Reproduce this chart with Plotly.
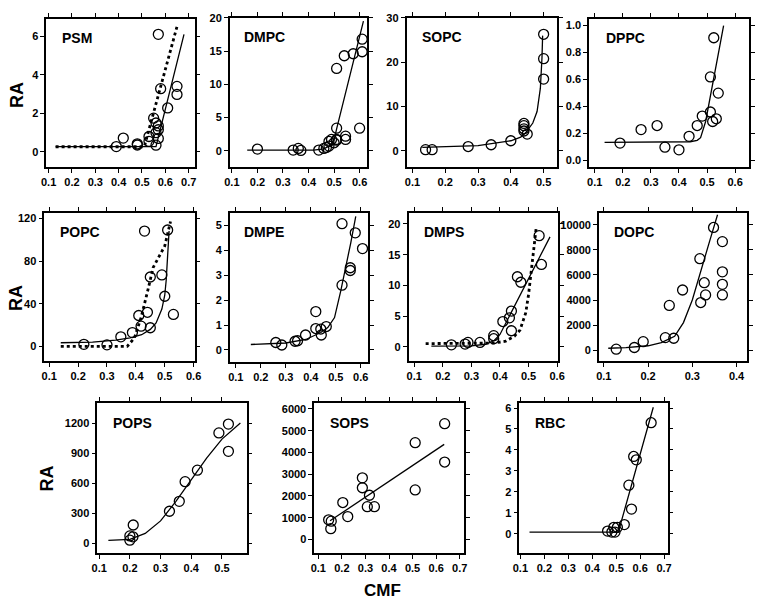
import plotly.graph_objects as go

W, H = 764, 603

# ---------------- data ----------------
psm_x = [0.39, 0.42, 0.48, 0.48, 0.53, 0.53, 0.55, 0.56, 0.56, 0.56, 0.57, 0.57, 0.57, 0.57, 0.58, 0.61, 0.65, 0.65]
psm_y = [0.28, 0.72, 0.42, 0.36, 0.8, 0.55, 1.75, 1.5, 0.35, 1.0, 1.35, 1.15, 0.7, 6.1, 3.28, 2.28, 3.4, 2.98]
psm_fit_x = [0.13, 0.56, 0.68]
psm_fit_y = [0.28, 0.28, 6.1]
psm_dot_x = [0.13, 0.51, 0.65]
psm_dot_y = [0.27, 0.27, 6.5]

dmpc_x = [0.2, 0.34, 0.36, 0.37, 0.44, 0.46, 0.47, 0.48, 0.48, 0.49, 0.5, 0.51, 0.51, 0.51, 0.51, 0.54, 0.545, 0.545, 0.575, 0.6, 0.61, 0.61]
dmpc_y = [0.25, 0.1, 0.35, 0.05, 0.1, 0.35, 0.5, 1.4, 0.7, 1.7, 1.2, 1.6, 12.4, 3.4, 1.7, 14.3, 1.7, 2.2, 14.6, 3.4, 16.8, 14.9]
dmpc_fit_x = [0.16, 0.42, 0.46, 0.48, 0.5, 0.51, 0.615]
dmpc_fit_y = [0.1, 0.1, 0.3, 0.7, 1.6, 3.3, 19.5]

sopc_x = [0.14, 0.16, 0.27, 0.34, 0.40, 0.44, 0.44, 0.44, 0.44, 0.45, 0.5, 0.5, 0.5]
sopc_y = [0.3, 0.3, 1.0, 1.4, 2.3, 6.2, 5.7, 5.0, 4.5, 3.8, 26.3, 20.8, 16.2]
sopc_fit_x = [0.13, 0.3, 0.4, 0.43, 0.445, 0.467, 0.48, 0.49, 0.495, 0.497]
sopc_fit_y = [0.8, 1.2, 2.3, 3.1, 4.1, 6.3, 8.9, 14.1, 21.0, 26.0]

dppc_x = [0.19, 0.265, 0.322, 0.35, 0.40, 0.436, 0.465, 0.483, 0.512, 0.512, 0.52, 0.533, 0.54, 0.524]
dppc_y = [0.13, 0.23, 0.26, 0.1, 0.08, 0.18, 0.26, 0.33, 0.62, 0.36, 0.29, 0.31, 0.5, 0.91]
dppc_fit_x = [0.135, 0.44, 0.465, 0.477, 0.495, 0.559]
dppc_fit_y = [0.135, 0.14, 0.15, 0.17, 0.29, 1.0]

popc_x = [0.22, 0.3, 0.348, 0.388, 0.41, 0.418, 0.44, 0.43, 0.45, 0.45, 0.49, 0.5, 0.51, 0.53]
popc_y = [2, 1.5, 9, 13, 29, 19, 32, 108, 65, 17.5, 67, 47, 109, 30]
popc_fit_x = [0.14, 0.25, 0.33, 0.38, 0.42, 0.45, 0.47, 0.49, 0.5, 0.505, 0.51, 0.515]
popc_fit_y = [3.5, 4, 6, 8, 11, 16, 22, 35, 48, 62, 85, 108]
popc_dot_x = [0.14, 0.37, 0.395, 0.418, 0.44, 0.46, 0.5, 0.52]
popc_dot_y = [0, 0, 8, 27, 51, 74, 94, 117]

dmpe_x = [0.26, 0.284, 0.337, 0.347, 0.379, 0.42, 0.42, 0.44, 0.442, 0.462, 0.525, 0.525, 0.558, 0.558, 0.578, 0.607]
dmpe_y = [0.3, 0.2, 0.35, 0.37, 0.6, 1.54, 0.86, 0.84, 0.6, 0.94, 2.6, 5.07, 3.3, 3.19, 4.7, 4.07]
dmpe_fit_x = [0.16, 0.3, 0.38, 0.44, 0.468, 0.495, 0.52, 0.54, 0.56, 0.58]
dmpe_fit_y = [0.22, 0.28, 0.42, 0.7, 0.9, 1.3, 2.37, 3.3, 4.3, 5.36]

dmps_x = [0.23, 0.278, 0.288, 0.33, 0.378, 0.378, 0.41, 0.433, 0.44, 0.44, 0.461, 0.473, 0.537, 0.545]
dmps_y = [0.3, 0.43, 0.7, 0.7, 1.8, 1.3, 4.1, 4.7, 5.8, 2.6, 11.4, 10.5, 18.1, 13.4]
dmps_fit_x = [0.16, 0.3, 0.35, 0.38, 0.4, 0.575]
dmps_fit_y = [0.1, 0.15, 0.4, 1.0, 2.0, 17.9]
dmps_dot_x = [0.14, 0.3, 0.38, 0.42, 0.45, 0.47, 0.49, 0.5, 0.51, 0.52, 0.527]
dmps_dot_y = [0.5, 0.5, 0.6, 0.9, 1.7, 2.7, 5.5, 8.5, 12.5, 16.5, 19.5]

dopc_x = [0.128, 0.169, 0.189, 0.239, 0.258, 0.248, 0.278, 0.317, 0.319, 0.327, 0.33, 0.348, 0.368, 0.368, 0.368, 0.368]
dopc_y = [80, 210, 680, 1000, 950, 3570, 4800, 7300, 3800, 5380, 4410, 9790, 8660, 6250, 5250, 4410]
dopc_fit_x = [0.11, 0.15, 0.2, 0.23, 0.26, 0.28, 0.3, 0.32, 0.34, 0.357]
dopc_fit_y = [150, 200, 350, 600, 1100, 2200, 4000, 6300, 8800, 10800]

pops_x = [0.2, 0.2, 0.21, 0.211, 0.329, 0.361, 0.38, 0.42, 0.49, 0.521, 0.521]
pops_y = [33, 75, 66, 184, 321, 420, 616, 731, 1102, 1190, 918]
pops_fit_x = [0.13, 0.2, 0.25, 0.3, 0.35, 0.4, 0.45, 0.5, 0.56]
pops_fit_y = [30, 40, 100, 225, 420, 640, 850, 1040, 1200]

sops_x = [0.144, 0.155, 0.153, 0.204, 0.225, 0.287, 0.287, 0.308, 0.317, 0.338, 0.511, 0.511, 0.636, 0.636]
sops_y = [905, 845, 500, 1700, 1055, 2835, 2380, 1510, 2035, 1510, 4450, 2280, 5320, 3560]
sops_fit_x = [0.15, 0.634]
sops_fit_y = [860, 4370]

rbc_x = [0.464, 0.482, 0.49, 0.495, 0.505, 0.534, 0.553, 0.564, 0.573, 0.584, 0.646]
rbc_y = [0.13, 0.08, 0.31, 0.08, 0.31, 0.44, 2.32, 1.18, 3.69, 3.53, 5.3]
rbc_fit_x = [0.138, 0.509, 0.655]
rbc_fit_y = [0.08, 0.08, 6.04]

# tick labels
cmf_ticks = ["0.1", "0.2", "0.3", "0.4", "0.5", "0.6", "0.7"]
psm_yticks = ["0", "2", "4", "6"]
dmpc_yticks = ["0", "5", "10", "15", "20"]
sopc_yticks = ["0", "10", "20", "30"]
dppc_yticks = ["0.0", "0.2", "0.4", "0.6", "0.8", "1.0"]
popc_yticks = ["0", "40", "80", "120"]
dmpe_yticks = ["0", "1", "2", "3", "4", "5"]
dmps_yticks = ["0", "5", "10", "15", "20"]
dopc_yticks = ["0", "2000", "4000", "6000", "8000", "10000"]
pops_yticks = ["0", "300", "600", "900", "1200"]
sops_yticks = ["0", "1000", "2000", "3000", "4000", "5000", "6000"]
rbc_yticks = ["0", "1", "2", "3", "4", "5", "6"]

# ---------------- panels ----------------
# name, points, fit, dotted, box(px l,r,t,b), xrange, yrange, n x ticks, y tick labels
panels = [
    ("PSM", (psm_x, psm_y), (psm_fit_x, psm_fit_y), (psm_dot_x, psm_dot_y), (40, 191, 13, 163), [0.09, 0.725], [-0.8, 6.9], 7, psm_yticks),
    ("DMPC", (dmpc_x, dmpc_y), (dmpc_fit_x, dmpc_fit_y), None, (227, 367, 12, 163), [0.092, 0.63], [-2.5, 20], 6, dmpc_yticks),
    ("SOPC", (sopc_x, sopc_y), (sopc_fit_x, sopc_fit_y), None, (407, 560, 12, 163), [0.082, 0.54], [-3.7, 30], 5, sopc_yticks),
    ("DPPC", (dppc_x, dppc_y), (dppc_fit_x, dppc_fit_y), None, (593, 756, 13, 163), [0.08, 0.65], [-0.05, 1.05], 6, dppc_yticks),
    ("POPC", (popc_x, popc_y), (popc_fit_x, popc_fit_y), (popc_dot_x, popc_dot_y), (38, 191, 209, 359), [0.083, 0.603], [-14, 125], 6, popc_yticks),
    ("DMPE", (dmpe_x, dmpe_y), (dmpe_fit_x, dmpe_fit_y), None, (227, 368, 209, 360), [0.076, 0.63], [-0.5, 5.5], 6, dmpe_yticks),
    ("DMPS", (dmps_x, dmps_y), (dmps_fit_x, dmps_fit_y), (dmps_dot_x, dmps_dot_y), (409, 561, 209, 359), [0.08, 0.602], [-2.4, 21.8], 6, dmps_yticks),
    ("DOPC", (dopc_x, dopc_y), (dopc_fit_x, dopc_fit_y), None, (603, 754, 209, 359), [0.089, 0.424], [-900, 10950], 4, dopc_yticks),
    ("POPS", (pops_x, pops_y), (pops_fit_x, pops_fit_y), None, (92, 244, 401, 553), [0.094, 0.58], [-100, 1400], 5, pops_yticks),
    ("SOPS", (sops_x, sops_y), (sops_fit_x, sops_fit_y), None, (313, 466, 401, 553), [0.083, 0.72], [-640, 6270], 7, sops_yticks),
    ("RBC", (rbc_x, rbc_y), (rbc_fit_x, rbc_fit_y), None, (522, 673, 401, 553), [0.096, 0.715], [-0.94, 6.24], 7, rbc_yticks),
]

FONT = "Liberation Sans, Arial, sans-serif"
fig = go.Figure()
layout = {}
annotations = []

for i, (name, pts, fit, dot, box, xr, yr, nx, ylabels) in enumerate(panels, start=1):
    xa = "x" if i == 1 else f"x{i}"
    ya = "y" if i == 1 else f"y{i}"
    l, r, t, b = box
    fig.add_trace(go.Scatter(x=fit[0], y=fit[1], mode="lines", xaxis=xa, yaxis=ya,
                             line=dict(color="black", width=1.3), showlegend=False))
    if dot is not None:
        fig.add_trace(go.Scatter(x=dot[0], y=dot[1], mode="lines", xaxis=xa, yaxis=ya,
                                 line=dict(color="black", width=2.8, dash="dot"), showlegend=False))
    fig.add_trace(go.Scatter(x=pts[0], y=pts[1], mode="markers", xaxis=xa, yaxis=ya,
                             marker=dict(symbol="circle-open", size=10, color="black",
                                         line=dict(width=1.3, color="black")),
                             showlegend=False))
    common = dict(showgrid=False, zeroline=False, showline=True, linecolor="black", linewidth=1.6,
                  mirror="ticks", ticks="outside", ticklen=4, tickwidth=1.2, tickcolor="black",
                  tickfont=dict(family=FONT, size=11, color="black"))
    xl = cmf_ticks[:nx]
    layout["xaxis" if i == 1 else f"xaxis{i}"] = dict(
        domain=[l / W, r / W], anchor=ya, range=xr, tickmode="array",
        tickvals=[float(v) for v in xl], ticktext=[f"<b>{v}</b>" for v in xl], **common)
    layout["yaxis" if i == 1 else f"yaxis{i}"] = dict(
        domain=[1 - b / H, 1 - t / H], anchor=xa, range=yr, tickmode="array",
        tickvals=[float(v) for v in ylabels], ticktext=[f"<b>{v}</b>" for v in ylabels], **common)
    annotations.append(dict(text=f"<b>{name}</b>", xref=f"{xa} domain", yref=f"{ya} domain", x=0.09, y=0.87,
                            xanchor="left", yanchor="middle", showarrow=False,
                            font=dict(family=FONT, size=14, color="black")))

for (xp, yp) in [(10, 90), (9, 295), (41, 477)]:
    annotations.append(dict(text="<b>RA</b>", xref="paper", yref="paper", x=xp / W, y=1 - yp / H,
                            xanchor="center", yanchor="middle", textangle=-90, showarrow=False,
                            font=dict(family=FONT, size=18, color="black")))
annotations.append(dict(text="<b>CMF</b>", xref="paper", yref="paper", x=383 / W, y=1 - 590 / H,
                        xanchor="center", yanchor="middle", showarrow=False,
                        font=dict(family=FONT, size=17, color="black")))

fig.update_layout(width=W, height=H, margin=dict(l=0, r=0, t=0, b=0),
                  paper_bgcolor="white", plot_bgcolor="white",
                  annotations=annotations, **layout)

fig.write_html("out.html", config={"displayModeBar": False},
               post_script="document.body.style.margin='0px';document.body.style.overflow='hidden';")
